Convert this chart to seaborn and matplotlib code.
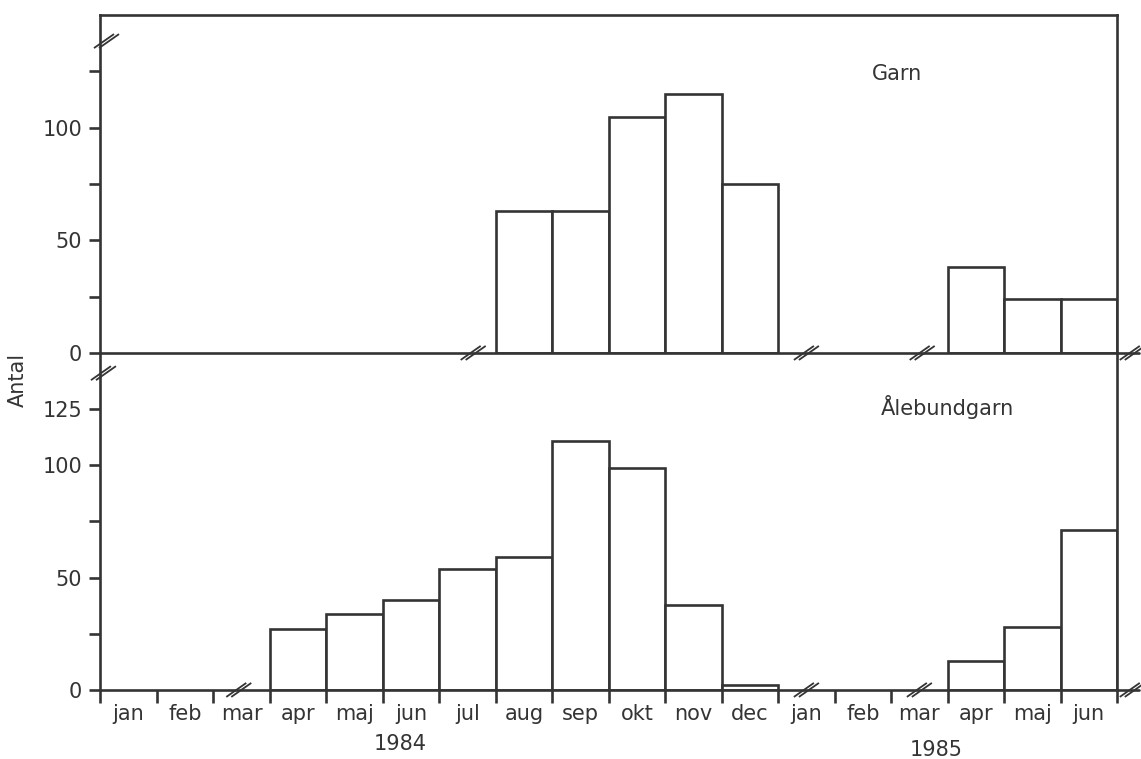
import matplotlib
matplotlib.use("Agg")
import matplotlib.pyplot as plt
import seaborn as sns
import pandas as pd

# ---- data ----
months = ["jan", "feb", "mar", "apr", "maj", "jun", "jul", "aug", "sep",
          "okt", "nov", "dec", "jan", "feb", "mar", "apr", "maj", "jun"]
years = ["1984", "1985"]
garn = [0, 0, 0, 0, 0, 0, 0, 63, 63, 105, 115, 75, 0, 0, 0, 38, 24, 24]
alebundgarn = [0, 0, 0, 27, 34, 40, 54, 59, 111, 99, 38, 2, 0, 0, 0, 13, 28, 71]
panel_titles = ["Garn", "Ålebundgarn"]
ylabel = "Antal"
top_yticks = [0, 50, 100]
top_yminor = [25, 75, 125]
bot_yticks = [0, 50, 100, 125]
bot_yminor = [25, 75]

sns.set_style("white")
plt.rcParams["font.family"] = ["DejaVu Sans"]

INK = "#343434"
LW = 1.9
FS = 15

FW, FH = 11.41, 7.59
fig = plt.figure(figsize=(FW, FH), dpi=100)
ax_bot = fig.add_axes([0.088, 0.091, 0.891, 0.444])
ax_top = fig.add_axes([0.088, 0.535, 0.891, 0.445])
for ax in (ax_top, ax_bot):
    ax.patch.set_visible(False)


def draw_bars(ax, vals):
    df = pd.DataFrame({
        "pos": [i + 0.5 for i, v in enumerate(vals) if v > 0],
        "val": [v for v in vals if v > 0],
    })
    sns.barplot(data=df, x="pos", y="val", native_scale=True, width=1,
                orient="x", color="white", saturation=1, edgecolor=INK,
                linewidth=LW, errorbar=None, ax=ax)
    ax.set_xlim(0, len(months))
    ax.set_ylim(0, 150)
    ax.set_xlabel("")
    ax.set_ylabel("")
    for s in ax.spines.values():
        s.set_color(INK)
        s.set_linewidth(LW)


draw_bars(ax_top, garn)
draw_bars(ax_bot, alebundgarn)

# top panel axes
ax_top.tick_params(axis="x", which="both", bottom=False, labelbottom=False)
ax_top.set_yticks(top_yticks)
ax_top.set_yticks(top_yminor, minor=True)
ax_top.tick_params(axis="y", which="both", left=True, direction="out",
                   length=8, width=LW, color=INK, labelsize=FS,
                   labelcolor=INK, pad=5)

# bottom panel axes
ax_bot.spines["top"].set_visible(False)
ax_bot.set_yticks(bot_yticks)
ax_bot.set_yticks(bot_yminor, minor=True)
ax_bot.tick_params(axis="y", which="both", left=True, direction="out",
                   length=8, width=LW, color=INK, labelsize=FS,
                   labelcolor=INK, pad=5)
ax_bot.set_xticks(range(len(months) + 1))
ax_bot.set_xticklabels([""] * (len(months) + 1))
ax_bot.set_xticks([i + 0.5 for i in range(len(months))], minor=True)
ax_bot.set_xticklabels(months, minor=True)
ax_bot.tick_params(axis="x", which="major", bottom=True, direction="out",
                   length=9, width=LW, color=INK)
ax_bot.tick_params(axis="x", which="minor", bottom=True, length=0,
                   labelsize=FS, labelcolor=INK, pad=10)

# year captions
ax_bot.annotate(years[0], xy=(5.3, -0.16), xycoords=("data", "axes fraction"),
                ha="center", va="center", fontsize=FS, color=INK)
ax_bot.annotate(years[1], xy=(14.8, -0.178), xycoords=("data", "axes fraction"),
                ha="center", va="center", fontsize=FS, color=INK)

# panel titles
ax_top.text(14.1, 124, panel_titles[0], ha="center", va="center",
            fontsize=FS, color=INK)
ax_bot.text(15.0, 126, panel_titles[1], ha="center", va="center",
            fontsize=FS, color=INK)

fig.text(0.016, 0.5, ylabel, rotation=90, ha="center", va="center",
         fontsize=FS, color=INK)


# ---- axis-break decorations ----
def px_per_axes(ax):
    p = ax.get_position()
    return p.width * FW * 100, p.height * FH * 100


def slash(ax, xa, ya):
    """two short parallel slashes centered at axes fraction (xa, ya)"""
    wpx, hpx = px_per_axes(ax)
    dx, dy = 10 / wpx, 7 / hpx
    for off in (-2.5, 2.5):
        o = off / wpx
        ax.plot([xa - dx + o, xa + dx + o], [ya - dy, ya + dy],
                transform=ax.transAxes, color=INK, lw=1.3,
                clip_on=False, solid_capstyle="butt")


for ax in (ax_top, ax_bot):
    ax.plot([1, 1.022], [0, 0], transform=ax.transAxes, color=INK, lw=LW,
            clip_on=False)
    slash(ax, 1.015, 0.0)

n = len(months)
for xm in (6.6, 12.5, 14.55):
    slash(ax_top, xm / n, 0.0)
for xm in (2.45, 12.5, 14.5):
    slash(ax_bot, xm / n, 0.0)
slash(ax_top, 0.006, 138.5 / 150)
slash(ax_bot, 0.003, 141 / 150)

fig.savefig("out.png", dpi=100, facecolor="white")
